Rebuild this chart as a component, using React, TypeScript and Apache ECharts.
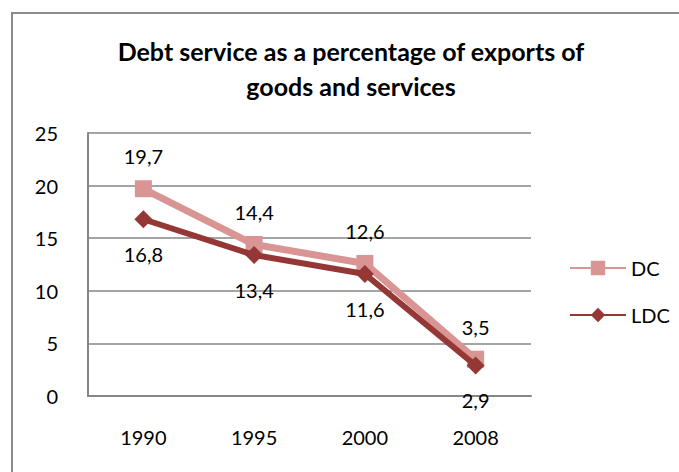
import React, { useEffect, useRef } from "react";
import * as echarts from "echarts";

const categories = ["1990", "1995", "2000", "2008"];
const dcValues = [19.7, 14.4, 12.6, 3.5];
const ldcValues = [16.8, 13.4, 11.6, 2.9];
const titleText = "Debt service as a percentage of exports of\ngoods and services";

const FONT = "Lato";
const fmt = (p: any) => String(p.value).replace(".", ",");

export default function App() {
  const ref = useRef<HTMLDivElement>(null);
  useEffect(() => {
    const chart = echarts.init(ref.current!, null, { renderer: "svg" });
    chart.setOption({
      animation: false,
      backgroundColor: "#ffffff",
      title: {
        text: titleText,
        left: 346,
        textAlign: "center",
        top: 28,
        textStyle: { fontFamily: FONT, fontWeight: "bold", fontSize: 25, color: "#000", lineHeight: 35 },
      },
      graphic: [
        {
          type: "rect",
          shape: { x: 12, y: 13, width: 720, height: 520 },
          style: { fill: "none", stroke: "#8c8c8c", lineWidth: 2 },
          silent: true,
        },
      ],
      legend: {
        orient: "vertical",
        left: 564,
        top: 253,
        itemGap: 27,
        itemWidth: 56,
        itemHeight: 18,
        itemStyle: { borderWidth: 0 },
        textStyle: { fontFamily: FONT, fontSize: 20, color: "#000" },
        data: ["DC", "LDC"],
      },
      grid: { left: 88, top: 133, right: 148, bottom: 76 },
      xAxis: {
        type: "category",
        data: categories,
        axisLine: { show: true, lineStyle: { color: "#868686", width: 2 } },
        axisTick: { show: false },
        axisLabel: { fontFamily: FONT, fontSize: 20, color: "#000", margin: 31 },
      },
      yAxis: {
        type: "value",
        min: 0,
        max: 25,
        interval: 5,
        axisLine: { show: true, lineStyle: { color: "#868686", width: 2 } },
        axisTick: { show: false },
        splitLine: { lineStyle: { color: "#868686", width: 1.5 } },
        axisLabel: { fontFamily: FONT, fontSize: 20, color: "#000", margin: 30 },
      },
      series: [
        {
          name: "DC",
          type: "line",
          data: dcValues,
          symbol: "rect",
          symbolSize: 17,
          lineStyle: { color: "#d99594", width: 7 },
          itemStyle: { color: "#d99594" },
          label: { show: true, position: "top", distance: 14, formatter: fmt, fontFamily: FONT, fontSize: 20, color: "#000" },
          z: 2,
        },
        {
          name: "LDC",
          type: "line",
          data: ldcValues,
          symbol: "diamond",
          symbolSize: 18,
          lineStyle: { color: "#953735", width: 6 },
          itemStyle: { color: "#953735" },
          label: { show: true, position: "bottom", distance: 16, formatter: fmt, fontFamily: FONT, fontSize: 20, color: "#000" },
          z: 3,
        },
      ],
    });
    return () => chart.dispose();
  }, []);
  return (
    <div
      ref={ref}
      style={{ position: "fixed", left: 0, top: 0, width: 679, height: 472 }}
    />
  );
}
